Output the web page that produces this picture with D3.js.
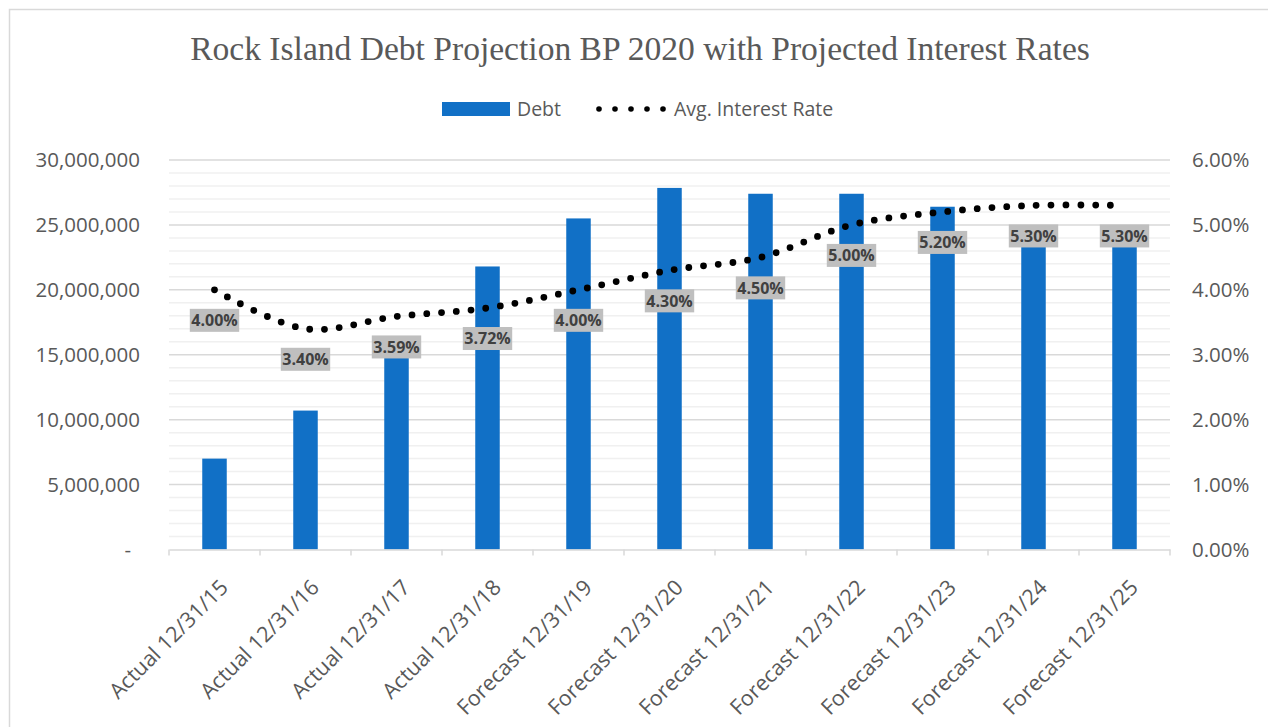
<!DOCTYPE html>
<html>
<head>
<meta charset="utf-8">
<script src="https://cdn.jsdelivr.net/npm/d3@7"></script>
<style>
  html, body { margin: 0; padding: 0; background: #fff; }
  svg { display: block; }
</style>
</head>
<body>
<svg id="chart" width="1268" height="727"></svg>
<script>
const categories = ["Actual 12/31/15", "Actual 12/31/16", "Actual 12/31/17", "Actual 12/31/18",
  "Forecast 12/31/19", "Forecast 12/31/20", "Forecast 12/31/21", "Forecast 12/31/22",
  "Forecast 12/31/23", "Forecast 12/31/24", "Forecast 12/31/25"];
const debt = [7000000, 10700000, 15500000, 21800000, 25500000, 27850000, 27400000, 27400000, 26400000, 24000000, 24000000];
const rate = [4.00, 3.40, 3.59, 3.72, 4.00, 4.30, 4.50, 5.00, 5.20, 5.30, 5.30];
const leftTicks = [0, 5000000, 10000000, 15000000, 20000000, 25000000, 30000000];
const rightTicks = [0, 1, 2, 3, 4, 5, 6];
const minorStep = 1000000;

const svg = d3.select("#chart");
const textColor = "#595959";
const sans = "'Open Sans', 'Liberation Sans', sans-serif";

// outer border
svg.append("rect").attr("x", 9.5).attr("y", 9.5).attr("width", 1300).attr("height", 800)
  .attr("fill", "none").attr("stroke", "#d9d9d9").attr("stroke-width", 1.5);

const plot = { left: 169, right: 1170, top: 160, bottom: 549.5 };

const x = d3.scaleBand().domain(categories).range([plot.left, plot.right]).padding(0);
const yL = d3.scaleLinear().domain([0, 30000000]).range([plot.bottom, plot.top]);
const yR = d3.scaleLinear().domain([0, 6]).range([plot.bottom, plot.top]);

// minor gridlines
const minor = d3.range(0, 30000001, minorStep).filter(v => v % 5000000 !== 0);
svg.append("g").selectAll("line").data(minor).join("line")
  .attr("x1", plot.left).attr("x2", plot.right)
  .attr("y1", d => yL(d)).attr("y2", d => yL(d))
  .attr("stroke", "#f0f0f0").attr("stroke-width", 1.5);
// major gridlines
svg.append("g").selectAll("line").data(leftTicks.filter(d => d > 0)).join("line")
  .attr("x1", plot.left).attr("x2", plot.right)
  .attr("y1", d => yL(d)).attr("y2", d => yL(d))
  .attr("stroke", "#d9d9d9").attr("stroke-width", 1.5);

// bars
const barW = 24.5;
svg.append("g").selectAll("rect").data(debt).join("rect")
  .attr("x", (d, i) => x(categories[i]) + x.bandwidth() / 2 - barW / 2)
  .attr("width", barW)
  .attr("y", d => yL(d))
  .attr("height", d => yL(0) - yL(d))
  .attr("fill", "#1170c6");

// x axis line & ticks
const xAxis = d3.axisBottom(x).tickSize(0).tickFormat("");
const gx = svg.append("g").attr("transform", `translate(0,${plot.bottom})`).call(xAxis);
gx.select(".domain").attr("stroke", "#d9d9d9").attr("stroke-width", 1.5);
const bounds = categories.map(c => x(c)).concat([plot.right]);
svg.append("g").selectAll("line").data(bounds).join("line")
  .attr("x1", d => d).attr("x2", d => d)
  .attr("y1", plot.bottom).attr("y2", plot.bottom + 6)
  .attr("stroke", "#d9d9d9").attr("stroke-width", 1.5);

// x labels
svg.append("g").selectAll("text").data(categories).join("text")
  .attr("transform", d => `translate(${x(d) + x.bandwidth() / 2 + 9.6},${plot.bottom + 34}) rotate(-45)`)
  .attr("text-anchor", "end")
  .attr("dy", "0.35em")
  .attr("font-family", sans).attr("font-size", 21.5).attr("fill", textColor)
  .text(d => d);

// left axis labels
const fmtL = d3.format(",");
const gl = svg.append("g").attr("transform", `translate(${plot.left},0)`)
  .call(d3.axisLeft(yL).tickValues(leftTicks).tickSize(0).tickPadding(29)
    .tickFormat(d => d === 0 ? "-" : fmtL(d)));
gl.select(".domain").remove();
gl.selectAll("text").attr("font-family", sans).attr("font-size", 20.5).attr("fill", textColor);
gl.selectAll(".tick").filter(d => d === 0).select("text").attr("dx", -9);

// right axis labels
const gr = svg.append("g").attr("transform", `translate(${plot.right},0)`)
  .call(d3.axisRight(yR).tickValues(rightTicks).tickSize(0).tickPadding(22)
    .tickFormat(d => d.toFixed(2) + "%"));
gr.select(".domain").remove();
gr.selectAll("text").attr("font-family", sans).attr("font-size", 20.5).attr("fill", textColor);

// dotted line
const pts = rate.map((r, i) => [x(categories[i]) + x.bandwidth() / 2, yR(r)]);
const line = d3.line().curve(d3.curveCatmullRom.alpha(0.5));
svg.append("path").attr("d", line(pts))
  .attr("fill", "none").attr("stroke", "#000").attr("stroke-width", 6.8)
  .attr("stroke-linecap", "round").attr("stroke-dasharray", "0 14.8");

// data labels
const lg = svg.append("g");
rate.forEach((r, i) => {
  const cx = pts[i][0], cy = pts[i][1] + 30.5;
  const g = lg.append("g");
  const rect = g.append("rect").attr("fill", "#bfbfbf");
  const t = g.append("text").attr("x", cx).attr("y", cy).attr("dy", "0.36em")
    .attr("text-anchor", "middle").attr("font-family", sans).attr("font-weight", "bold")
    .attr("font-size", 16).attr("fill", "#404040").text(r.toFixed(2) + "%");
  const w = t.node().getComputedTextLength() + 3;
  rect.attr("x", cx - w / 2).attr("y", cy - 11.5).attr("width", w).attr("height", 23);
});

// legend
svg.append("rect").attr("x", 442).attr("y", 102).attr("width", 68).attr("height", 14).attr("fill", "#1170c6");
svg.append("text").attr("x", 517).attr("y", 109).attr("dy", "0.35em")
  .attr("font-family", sans).attr("font-size", 19.5).attr("fill", textColor).text("Debt");
svg.append("g").selectAll("circle").data(d3.range(5)).join("circle")
  .attr("cx", d => 599 + d * 16).attr("cy", 109).attr("r", 2.8).attr("fill", "#000");
svg.append("text").attr("x", 674).attr("y", 109).attr("dy", "0.35em")
  .attr("font-family", sans).attr("font-size", 19.5).attr("fill", textColor).text("Avg. Interest Rate");

// title
const title = svg.append("text").attr("x", 640).attr("y", 60).attr("text-anchor", "middle")
  .attr("font-family", "'Liberation Serif', 'DejaVu Serif', serif").attr("font-size", 32)
  .attr("fill", textColor)
  .text("Rock Island Debt Projection BP 2020 with Projected Interest Rates");
const tw = title.node().getComputedTextLength();
title.attr("font-size", 32 * 900 / tw);
</script>
</body>
</html>
